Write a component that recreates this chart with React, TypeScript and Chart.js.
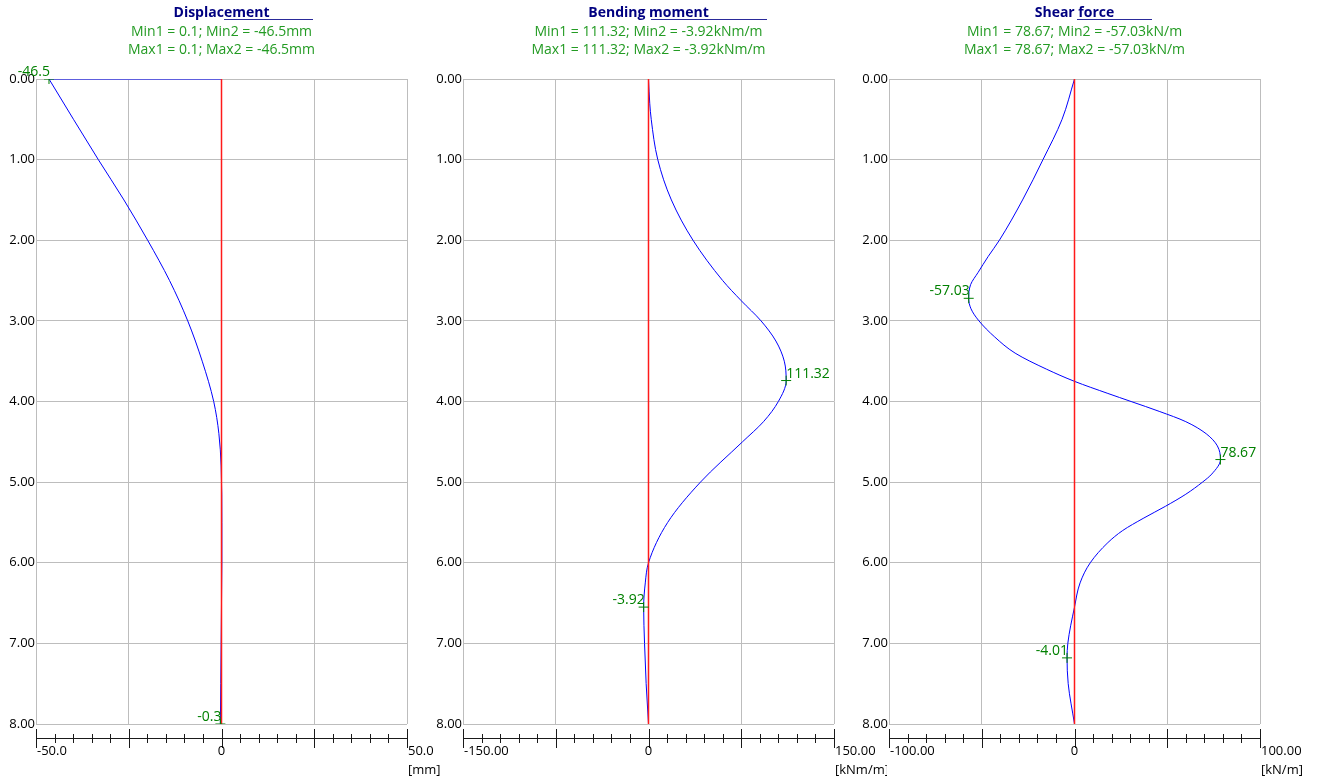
import React, { useEffect, useRef } from "react";
import { Chart, registerables } from "chart.js";

Chart.register(...registerables);

// ---------- Data ----------
const depthTickLabels = ["0.00", "1.00", "2.00", "3.00", "4.00", "5.00", "6.00", "7.00", "8.00"];

// Displacement [mm]
const dispTopDepth = [0, 0];
const dispTopValue = [0, -46.5];
const dispDepth = [0, 0.5, 1.0, 1.5, 2.0, 2.5, 3.0, 3.5, 4.0, 4.4, 4.8, 5.5, 6.0, 6.5, 7.0, 7.5, 8.0];
const dispValue = [-46.5, -39.9, -33.2, -26.3, -19.9, -14.0, -9.1, -5.2, -2.1, -0.7, -0.1, 0.1, 0.1, 0.0, -0.1, -0.2, -0.3];
const dispMarkDepth = [0, 8];
const dispMarkValue = [-46.5, -0.3];
const dispMarkLabels = ["-46.5", "-0.3"];

// Bending moment [kNm/m]
const momDepth = [0, 0.3, 0.5, 1.0, 1.5, 2.0, 2.5, 2.75, 3.0, 3.25, 3.5, 3.74, 4.0, 4.25, 4.5, 5.0, 5.5, 6.0, 6.25, 6.55, 7.0, 7.5, 8.0];
const momValue = [0, 1.0, 2.2, 7.5, 18.5, 36.0, 60.0, 75.0, 91.0, 103.0, 109.8, 111.32, 105.0, 93.0, 76.0, 42.0, 15.5, 0, -2.6, -3.92, -3.2, -1.9, 0];
const momMarkDepth = [3.74, 6.55];
const momMarkValue = [111.32, -3.92];
const momMarkLabels = ["111.32", "-3.92"];

// Shear force [kN/m]
const shearDepth = [0, 0.5, 1.0, 1.5, 2.0, 2.2, 2.4, 2.55, 2.72, 2.85, 3.0, 3.2, 3.4, 3.6, 3.75, 3.9, 4.0, 4.125, 4.25, 4.4, 4.55, 4.72, 4.9, 5.0, 5.15, 5.3, 5.45, 5.6, 5.75, 6.0, 6.25, 6.55, 7.0, 7.18, 7.5, 8.0];
const shearValue = [0, -6.7, -17.0, -28.0, -40.5, -46.5, -52.0, -56.0, -57.03, -55.8, -51.5, -43.0, -32.0, -15.0, 0, 18.0, 30.5, 46.0, 60.0, 71.0, 77.0, 78.67, 74.0, 69.0, 60.0, 49.0, 37.0, 26.0, 18.0, 8.5, 3.0, 0, -3.6, -4.01, -3.4, 0];
const shearMarkDepth = [2.72, 4.72, 7.18];
const shearMarkValue = [-57.03, 78.67, -4.01];
const shearMarkLabels = ["-57.03", "78.67", "-4.01"];

// Reference (zero) line
const refDepth = [0, 8];
const refValue = [0, 0];

// Axis ranges / labels
const dispAxis = { min: -50, max: 50, step: 25, labels: ["-50.0", "0", "50.0"], unit: "[mm]" };
const momAxis = { min: -150, max: 150, step: 75, labels: ["-150.00", "0", "150.00"], unit: "[kNm/m]" };
const shearAxis = { min: -100, max: 100, step: 50, labels: ["-100.00", "0", "100.00"], unit: "[kN/m]" };

const titles = ["Displacement", "Bending moment", "Shear force"];
const subtitles = [
  ["Min1 = 0.1; Min2 = -46.5mm", "Max1 = 0.1; Max2 = -46.5mm"],
  ["Min1 = 111.32; Min2 = -3.92kNm/m", "Max1 = 111.32; Max2 = -3.92kNm/m"],
  ["Min1 = 78.67; Min2 = -57.03kN/m", "Max1 = 78.67; Max2 = -57.03kN/m"],
];
const underlineLen = [91, 118, 77];

// ---------- Helpers ----------
const FONT = '"Open Sans", "Noto Sans", sans-serif';
const pts = (d: number[], v: number[]) => d.map((y, i) => ({ x: v[i], y }));

type PanelCfg = {
  title: string;
  sub: string[];
  ul: number;
  axis: { min: number; max: number; step: number; labels: string[]; unit: string };
  lines: { d: number[]; v: number[]; flat?: boolean }[];
  mark: { d: number[]; v: number[]; labels: string[] };
};

const panels: PanelCfg[] = [
  {
    title: titles[0], sub: subtitles[0], ul: underlineLen[0], axis: dispAxis,
    lines: [{ d: dispTopDepth, v: dispTopValue, flat: true }, { d: dispDepth, v: dispValue }],
    mark: { d: dispMarkDepth, v: dispMarkValue, labels: dispMarkLabels },
  },
  {
    title: titles[1], sub: subtitles[1], ul: underlineLen[1], axis: momAxis,
    lines: [{ d: momDepth, v: momValue }],
    mark: { d: momMarkDepth, v: momMarkValue, labels: momMarkLabels },
  },
  {
    title: titles[2], sub: subtitles[2], ul: underlineLen[2], axis: shearAxis,
    lines: [{ d: shearDepth, v: shearValue }],
    mark: { d: shearMarkDepth, v: shearMarkValue, labels: shearMarkLabels },
  },
];

const CW = 460;
const CH = 780;
const PLOT_W = 371;
const YAXIS_W = 36;

function Panel({ cfg, left }: { cfg: PanelCfg; left: number }) {
  const ref = useRef<HTMLCanvasElement>(null);
  useEffect(() => {
    const canvas = ref.current;
    if (!canvas) return;
    const a = cfg.axis;

    const decor = {
      id: "decor" + left,
      afterDraw(chart: any) {
        const ctx = chart.ctx as CanvasRenderingContext2D;
        const ca = chart.chartArea;
        const xs = chart.scales.x;
        const ys = chart.scales.y;
        const cx = (ca.left + ca.right) / 2;
        ctx.save();
        // Titles
        ctx.textAlign = "center";
        ctx.textBaseline = "middle";
        ctx.fillStyle = "#000080";
        ctx.font = `bold 14px ${FONT}`;
        ctx.fillText(cfg.title, cx, 13);
        ctx.strokeStyle = "#2a2a9a";
        ctx.lineWidth = 1;
        ctx.beginPath();
        ctx.moveTo(Math.round(cx) + 2, 19.5);
        ctx.lineTo(Math.round(cx) + cfg.ul, 19.5);
        ctx.stroke();
        ctx.fillStyle = "#239b23";
        ctx.font = `14px ${FONT}`;
        ctx.fillText(cfg.sub[0], cx, 32);
        ctx.fillText(cfg.sub[1], cx, 50);

        // Ruler
        const ry = 738.5;
        ctx.strokeStyle = "#1a1a1a";
        ctx.lineWidth = 1;
        const x0 = Math.round(xs.getPixelForValue(a.min)) + 0.5;
        const x1 = Math.round(xs.getPixelForValue(a.max)) + 0.5;
        ctx.beginPath();
        ctx.moveTo(x0, ry);
        ctx.lineTo(x1, ry);
        const minor = a.step / 5;
        const n = Math.round((a.max - a.min) / minor);
        for (let i = 0; i <= n; i++) {
          const v = a.min + i * minor;
          const px = Math.round(xs.getPixelForValue(v)) + 0.5;
          if (i % 5 === 0) {
            ctx.moveTo(px, 729);
            ctx.lineTo(px, 748);
          } else {
            ctx.moveTo(px, 734);
            ctx.lineTo(px, 743);
          }
        }
        ctx.stroke();
        ctx.fillStyle = "#000";
        ctx.font = `13px ${FONT}`;
        ctx.textBaseline = "middle";
        ctx.textAlign = "left";
        ctx.fillText(a.labels[0], xs.getPixelForValue(a.min) + 1, 751);
        ctx.textAlign = "center";
        ctx.fillText(a.labels[1], xs.getPixelForValue(0), 751);
        ctx.textAlign = "left";
        ctx.fillText(a.labels[2], xs.getPixelForValue(a.max) + 1, 751);
        ctx.fillText(a.unit, xs.getPixelForValue(a.max) + 1, 770);

        // Marker labels
        ctx.fillStyle = "#008000";
        ctx.font = `14px ${FONT}`;
        ctx.textBaseline = "alphabetic";
        cfg.mark.labels.forEach((lab, i) => {
          const v = cfg.mark.v[i];
          const px = xs.getPixelForValue(v);
          const py = ys.getPixelForValue(cfg.mark.d[i]);
          if (v >= 0) {
            ctx.textAlign = "left";
            ctx.fillText(lab, px, py - 3);
          } else {
            ctx.textAlign = "right";
            ctx.fillText(lab, px + 1, py - 3);
          }
        });
        ctx.restore();
      },
    };

    const datasets: any[] = [
      {
        data: pts(cfg.mark.d, cfg.mark.v),
        showLine: false,
        pointStyle: "cross",
        pointRadius: 5,
        borderColor: "#008000",
        backgroundColor: "#008000",
        borderWidth: 1,
        order: 0,
      },
      {
        data: pts(refDepth, refValue),
        showLine: true,
        pointRadius: 0,
        borderColor: "#ff1a1a",
        borderWidth: 1.5,
        tension: 0,
        order: 1,
      },
      ...cfg.lines.map((l) => ({
        data: pts(l.d, l.v),
        showLine: true,
        pointRadius: 0,
        borderColor: "#0000ff",
        borderWidth: 1,
        tension: l.flat ? 0 : 0.4,
        cubicInterpolationMode: l.flat ? "default" : "monotone",
        order: 2,
      })),
    ];

    const chart = new Chart(canvas, {
      type: "scatter",
      data: { datasets },
      options: {
        responsive: false,
        devicePixelRatio: 1,
        animation: false,
        indexAxis: "y",
        layout: { padding: { left: 0, right: CW - YAXIS_W - PLOT_W, top: 79, bottom: 56 } },
        plugins: { legend: { display: false }, tooltip: { enabled: false }, title: { display: false } },
        scales: {
          x: {
            type: "linear",
            axis: "x",
            position: "bottom",
            min: a.min,
            max: a.max,
            ticks: { display: false, stepSize: a.step },
            grid: { color: "#bdbdbd", lineWidth: 1, drawTicks: false },
            border: { display: false },
            afterFit: (s: any) => { s.height = 0; },
          },
          y: {
            type: "linear",
            axis: "y",
            position: "left",
            reverse: true,
            min: 0,
            max: 8,
            ticks: {
              stepSize: 1,
              padding: 1,
              color: "#000",
              font: { family: FONT, size: 13 },
              callback: (v: any) => depthTickLabels[Math.round(Number(v))],
            },
            grid: { color: "#bdbdbd", lineWidth: 1, drawTicks: false },
            border: { display: false },
            afterFit: (s: any) => { s.width = YAXIS_W; },
          },
        },
      } as any,
      plugins: [decor],
    });
    return () => chart.destroy();
  }, []);
  return (
    <canvas
      ref={ref}
      width={CW}
      height={CH}
      style={{ position: "absolute", left, top: 0, width: CW, height: CH }}
    />
  );
}

export default function App() {
  const lefts = [0, 427, 853];
  return (
    <div style={{ position: "absolute", left: 0, top: 0, width: 1321, height: 780, background: "#fff", overflow: "hidden" }}>
      {panels.map((p, i) => (
        <Panel key={i} cfg={p} left={lefts[i]} />
      ))}
    </div>
  );
}
